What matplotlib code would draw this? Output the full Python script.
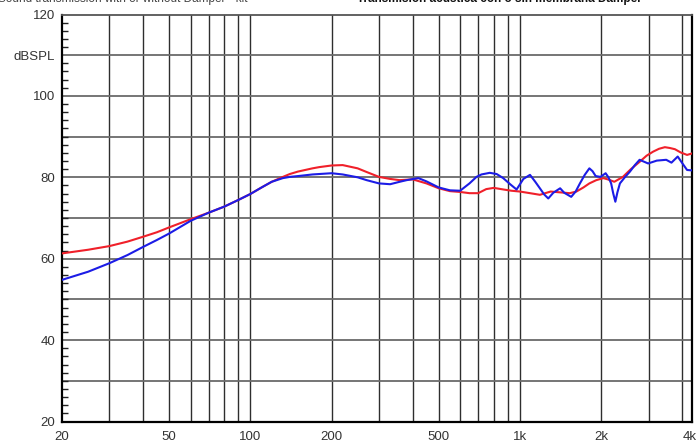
import matplotlib.pyplot as plt
from matplotlib.ticker import FixedLocator, NullFormatter
from matplotlib.transforms import ScaledTranslation

plt.rcParams['font.family'] = ['Liberation Sans', 'DejaVu Sans']

# red curve (with damper)
freq_red = [20, 25, 30, 35, 40, 45, 50, 60, 70, 80, 90, 100, 110, 120, 132, 140,
            150, 170, 180, 200, 220, 250, 270, 300, 330, 358, 400, 450, 500, 550,
            600, 650, 700, 750, 800, 870, 930, 1000, 1090, 1186, 1300, 1410,
            1530, 1620, 1720, 1810, 1920, 2040, 2140, 2240, 2410, 2580, 2780,
            2950, 3120, 3280, 3450, 3600, 3760, 3950, 4170, 4370]
spl_red = [61.3, 62.2, 63.1, 64.2, 65.4, 66.5, 67.7, 69.7, 71.3, 72.8, 74.4, 75.9,
           77.5, 78.9, 80.1, 80.8, 81.4, 82.2, 82.5, 82.9, 83.0, 82.2, 81.3, 80.1,
           79.6, 79.3, 79.5, 78.5, 77.3, 76.6, 76.4, 76.1, 76.1, 77.1, 77.4, 77.0,
           76.7, 76.5, 76.1, 75.7, 76.5, 76.3, 76.1, 76.5, 77.5, 78.5, 79.3, 79.8,
           79.4, 78.9, 80.1, 82.0, 83.8, 85.3, 86.3, 87.0, 87.4, 87.2, 86.9, 86.1,
           85.5, 85.9]

# blue curve (without damper)
freq_blue = [20, 25, 30, 35, 40, 45, 50, 60, 70, 80, 90, 100, 110, 120, 132, 140,
             150, 170, 200, 220, 250, 270, 300, 330, 358, 380, 420, 450, 500, 550,
             600, 650, 690, 720, 773, 820, 867, 920, 972, 1030, 1090, 1140, 1186,
             1230, 1274, 1330, 1410, 1460, 1550, 1610, 1670, 1740, 1810, 1860,
             1910, 1990, 2080, 2130, 2180, 2220, 2260, 2300, 2350, 2450, 2560,
             2670, 2780, 2990, 3220, 3490, 3650, 3850, 4000, 4170, 4340]
spl_blue = [54.8, 56.8, 58.9, 60.9, 62.9, 64.6, 66.2, 69.3, 71.3, 72.8, 74.4, 75.9,
            77.5, 78.9, 79.8, 80.1, 80.3, 80.7, 81.0, 80.7, 80.0, 79.3, 78.5, 78.3,
            78.9, 79.3, 79.8, 79.0, 77.5, 76.8, 76.7, 78.5, 80.1, 80.7, 81.1, 80.8,
            79.8, 78.3, 77.0, 79.6, 80.6, 78.9, 77.3, 75.8, 74.8, 76.2, 77.3, 76.2,
            75.2, 76.5, 78.5, 80.6, 82.2, 81.5, 80.3, 80.1, 81.0, 80.0, 78.5, 76.0,
            74.0, 76.3, 78.5, 80.0, 81.4, 83.0, 84.3, 83.4, 84.1, 84.3, 83.6, 85.1,
            83.5, 81.8, 81.7]

x_ticks = [20, 50, 100, 200, 500, 1000, 2000, 4000]
x_labels = ['20', '50', '100', '200', '500', '1k', '2k', '4k']
x_grid = [30, 40, 50, 60, 70, 80, 90, 100, 200, 300, 400, 500, 600, 700, 800,
          900, 1000, 2000, 3000, 4000]
y_ticks = [20, 40, 60, 80, 100, 110, 120]
y_labels = ['20', '40', '60', '80', '100', 'dBSPL', '120']

fig = plt.figure(figsize=(7, 4.42), dpi=100)
ax = fig.add_axes([62 / 700, 1 - 421.5 / 442, 630 / 700, 407 / 442])

ax.set_xscale('log')
ax.set_xlim(20, 4350)
ax.set_ylim(20, 120)

for f in x_grid:
    ax.axvline(f, color='#2e2e2e', lw=1.0, zorder=1)
for v in range(30, 120, 10):
    ax.axhline(v, color='#6a6a6a', lw=1.3, zorder=1)

ax.plot(freq_red, spl_red, color='#f0202a', lw=1.5, zorder=3)
ax.plot(freq_blue, spl_blue, color='#1c1ce6', lw=1.5, zorder=4)

ax.xaxis.set_major_locator(FixedLocator(x_ticks))
ax.xaxis.set_minor_locator(FixedLocator([]))
ax.set_xticklabels(x_labels)
ax.xaxis.set_minor_formatter(NullFormatter())
ax.set_yticks(y_ticks)
ax.set_yticklabels(y_labels)
ax.yaxis.set_minor_locator(FixedLocator(list(range(20, 121, 2))))

ax.tick_params(axis='x', length=0, pad=7, labelsize=9.5, labelcolor='#333333')
ax.tick_params(axis='y', which='major', length=0, pad=5, labelsize=9.5,
               labelcolor='#333333')
ax.tick_params(axis='y', which='minor', direction='in', length=4, width=1,
               color='#222222')

# the last x label sits at the right edge of the frame
lab = ax.get_xticklabels()[-1]
lab.set_transform(lab.get_transform() + ScaledTranslation(8 / 100, 0, fig.dpi_scale_trans))

ax.spines['left'].set_linewidth(1.6)
ax.spines['bottom'].set_linewidth(1.6)
ax.spines['top'].set_color('#555555')
ax.spines['top'].set_linewidth(1.3)
ax.spines['right'].set_linewidth(1.6)

# title, clipped by the top of the image as in the source
fig.text(-0.003, 1.002, 'Sound transmission with or without Damper - kit -',
         fontsize=8.5, color='#444444', va='center', ha='left')
fig.text(0.51, 1.002, 'Transmisión acústica con o sin membrana Damper',
         fontsize=8.5, color='#111111', fontweight='bold', va='center', ha='left')

fig.savefig('out.png', dpi=100)
